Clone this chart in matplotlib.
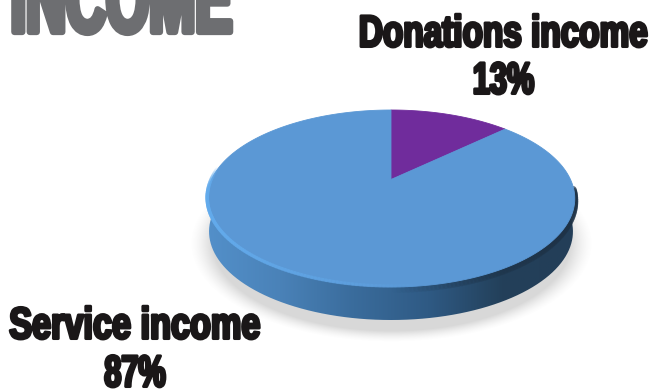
"""Income split drawn as a tilted 3D-style pie with heavy condensed labels."""
import matplotlib
matplotlib.use("Agg")
import matplotlib.patheffects as pe
import matplotlib.pyplot as plt
import numpy as np
from matplotlib.collections import LineCollection
from matplotlib.colors import LinearSegmentedColormap, to_rgb
from matplotlib.patches import PathPatch
from matplotlib.path import Path
from matplotlib.text import Text
from matplotlib.transforms import Affine2D, Bbox

categories = ["Donations income", "Service income"]
shares = [13, 87]
slice_colors = ["#702C9C", "#5B98D5"]
title = "INCOME"

GREY = "#6D6E71"
INK = "#1A1718"
FONT = "Liberation Sans"

# Pie geometry in pixels: the disc is tilted, so its centre sits above the
# middle of the outline.
CX, CY = 391, 198.5
TILT = 0.2147
HALF_W = 179.5
HALF_H = 88.5
APEX_RISE = 19
DEPTH = 33


def project(theta, cy=CY, shrink=1.0):
    """Map clockwise-from-top angles on a flat disc to the tilted disc."""
    u, v = np.sin(theta), np.cos(theta)
    w = 1 + TILT * v
    x = CX + shrink * HALF_W * u / w
    y = cy - (HALF_H * v + APEX_RISE) / w
    return x, y


class Squeezed(pe.AbstractPathEffect):
    """Narrow the glyphs around a centre line and embolden them with a stroke."""

    def __init__(self, center, factor, stroke, color):
        super().__init__()
        self.squeeze = Affine2D().translate(-center, 0).scale(factor, 1).translate(center, 0)
        self.stroke = stroke
        self.color = color

    def draw_path(self, renderer, gc, tpath, affine, rgbFace=None):
        gc0 = renderer.new_gc()
        gc0.copy_properties(gc)
        gc0.set_linewidth(self.stroke)
        gc0.set_foreground(self.color)
        renderer.draw_path(gc0, tpath, affine + self.squeeze, rgbFace)
        gc0.restore()


class CondensedText(Text):
    """Centred text whose reported extent follows the narrowed glyphs."""

    factor = 1.0

    def get_window_extent(self, renderer=None, dpi=None):
        box = super().get_window_extent(renderer, dpi)
        half = box.width * self.factor / 2
        mid = (box.x0 + box.x1) / 2
        return Bbox([[mid - half, box.y0], [mid + half, box.y1]])


def heavy_label(ax, x, y, s, size, factor, stroke, color):
    label = CondensedText(x, y, s, fontsize=size, fontweight="bold", family=FONT,
                          color=color, ha="center", va="baseline", zorder=6)
    label.factor = factor
    center = ax.transData.transform((x, y))[0]
    label.set_path_effects([Squeezed(center, factor, stroke, color)])
    ax.add_artist(label)
    return label


fig = plt.figure(figsize=(6.55, 3.9), dpi=100, facecolor="white")
ax = fig.add_axes([0, 0, 1, 1])
ax.set_xlim(0, 655)
ax.set_ylim(390, 0)
ax.axis("off")

# soft floor shadow
xx, yy = np.meshgrid(np.arange(170, 615), np.arange(180, 350))
dist = np.hypot((xx - CX) / 192, (yy - 243) / 94)
shadow = np.zeros(xx.shape + (4,))
shadow[..., :3] = 0.5
shadow[..., 3] = 0.3 * np.clip((1.05 - dist) / 0.12, 0, 1) ** 1.5
ax.imshow(shadow, extent=(170, 615, 350, 180), zorder=1, interpolation="bilinear")

# side wall, lit from the left
lower_t = np.linspace(np.pi / 2, 3 * np.pi / 2, 181)
wall_x, wall_y = project(lower_t, cy=CY + DEPTH, shrink=0.99)
wall_pts = np.column_stack([np.r_[CX + 184, wall_x, CX - 184],
                            np.r_[CY, wall_y, CY]])
wall = PathPatch(Path(wall_pts), transform=ax.transData, fc="none", ec="none")
ax.add_patch(wall)
wall_cmap = LinearSegmentedColormap.from_list(
    "wall", ["#5390CA", "#4A82B8", "#3A6C9C", "#2F5A84", "#23405A", "#233E58"])
ramp = ax.imshow(np.linspace(0, 1, 256)[None, :], cmap=wall_cmap, aspect="auto",
                 extent=(205, 577, 330, 180), zorder=2)
ramp.set_clip_path(wall)
ax.set_xlim(0, 655)
ax.set_ylim(390, 0)

# dark fall-off under the right edge of the disc
edge_t = np.linspace(np.radians(95), np.radians(180), 80)
ex, ey = project(edge_t)
edge_pts = np.column_stack([ex, ey + 2.5]).reshape(-1, 1, 2)
dark = np.zeros((79, 4))
dark[:, :3] = to_rgb("#1E3246")
dark[:, 3] = np.linspace(0.7, 0.0, 79)
ax.add_collection(LineCollection(np.concatenate([edge_pts[:-1], edge_pts[1:]], axis=1),
                                 colors=dark, linewidths=5, zorder=3,
                                 capstyle="round"))

# top face, one slice per share, first slice starting at twelve o'clock
start = 0.0
for share, color in zip(shares, slice_colors):
    sweep = 2 * np.pi * share / sum(shares)
    theta = np.linspace(start, start + sweep, 240)
    sx, sy = project(theta)
    ax.fill(np.r_[CX, sx], np.r_[CY - APEX_RISE, sy], color=color, lw=0.6, zorder=4)
    start += sweep

# bright bevel along the near rim, fading in on the left and out towards the right
rim_t = np.linspace(np.radians(278), np.radians(160), 120)
rx, ry = project(rim_t)
rim_pts = np.column_stack([rx, ry - 1]).reshape(-1, 1, 2)
rim = np.zeros((119, 4))
rim[:, :3] = to_rgb("#63ABEC")
rim[:, 3] = np.clip(np.minimum(np.linspace(0, 6, 119), np.linspace(1.15, -0.1, 119)), 0, 1)
ax.add_collection(LineCollection(np.concatenate([rim_pts[:-1], rim_pts[1:]], axis=1),
                                 colors=rim, linewidths=2.6, zorder=5,
                                 capstyle="round"))

# labels, narrowed and thickened because no heavy condensed face is installed
heavy_label(ax, 503.5, 46.5, categories[0], 32, 0.75, 2.2, INK)
heavy_label(ax, 503.5, 93.5, f"{shares[0]}%", 32, 0.69, 2.2, INK)
heavy_label(ax, 135, 338.5, categories[1], 32, 0.77, 2.2, INK)
heavy_label(ax, 135, 386.5, f"{shares[1]}%", 32, 0.69, 2.2, INK)
heavy_label(ax, 121.5, 32, title, 70, 0.57, 4.5, GREY)

fig.savefig("out.png", dpi=100)
